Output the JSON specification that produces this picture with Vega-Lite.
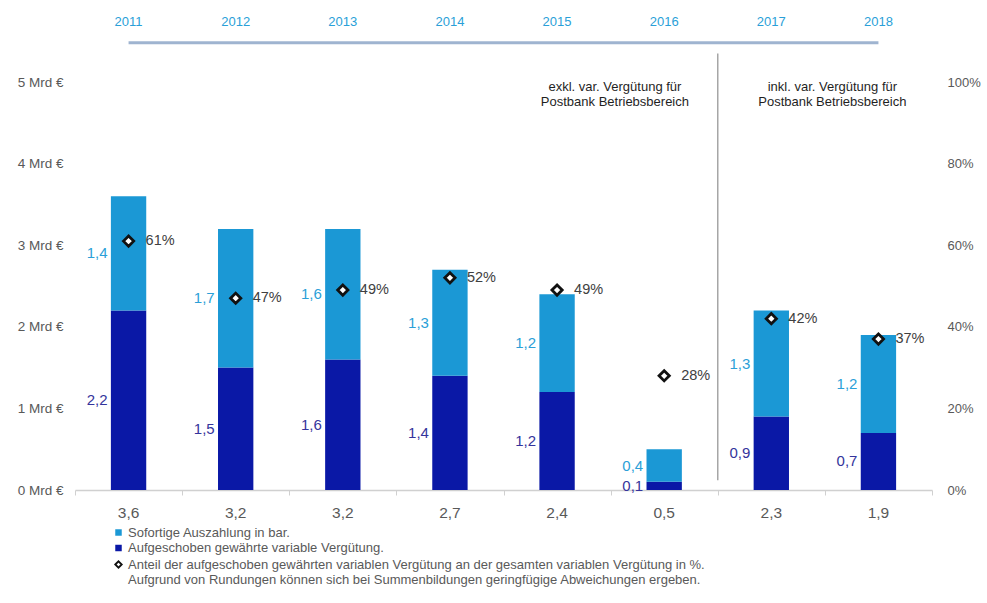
{
  "$schema": "https://vega.github.io/schema/vega-lite/v6.json",
  "width": 857,
  "height": 408,
  "autosize": {"type": "none"},
  "padding": {"left": 75, "top": 82, "right": 55, "bottom": 113},
  "background": "white",
  "config": {
    "view": {"stroke": null},
    "font": "Liberation Sans",
    "locale": {"number": {"decimal": ",", "thousands": ".", "grouping": [3], "currency": ["", " €"]}}
  },
  "datasets": {
    "parts": [
      {"Jahr": "2011", "Art": "Aufgeschoben gewährte variable Vergütung.", "Wert": 2.2},
      {"Jahr": "2011", "Art": "Sofortige Auszahlung in bar.", "Wert": 1.4},
      {"Jahr": "2012", "Art": "Aufgeschoben gewährte variable Vergütung.", "Wert": 1.5},
      {"Jahr": "2012", "Art": "Sofortige Auszahlung in bar.", "Wert": 1.7},
      {"Jahr": "2013", "Art": "Aufgeschoben gewährte variable Vergütung.", "Wert": 1.6},
      {"Jahr": "2013", "Art": "Sofortige Auszahlung in bar.", "Wert": 1.6},
      {"Jahr": "2014", "Art": "Aufgeschoben gewährte variable Vergütung.", "Wert": 1.4},
      {"Jahr": "2014", "Art": "Sofortige Auszahlung in bar.", "Wert": 1.3},
      {"Jahr": "2015", "Art": "Aufgeschoben gewährte variable Vergütung.", "Wert": 1.2},
      {"Jahr": "2015", "Art": "Sofortige Auszahlung in bar.", "Wert": 1.2},
      {"Jahr": "2016", "Art": "Aufgeschoben gewährte variable Vergütung.", "Wert": 0.1},
      {"Jahr": "2016", "Art": "Sofortige Auszahlung in bar.", "Wert": 0.4},
      {"Jahr": "2017", "Art": "Aufgeschoben gewährte variable Vergütung.", "Wert": 0.9},
      {"Jahr": "2017", "Art": "Sofortige Auszahlung in bar.", "Wert": 1.3},
      {"Jahr": "2018", "Art": "Aufgeschoben gewährte variable Vergütung.", "Wert": 0.7},
      {"Jahr": "2018", "Art": "Sofortige Auszahlung in bar.", "Wert": 1.2}
    ],
    "summary": [
      {"Jahr": "2011", "Summe": 3.6, "Anteil": 0.61},
      {"Jahr": "2012", "Summe": 3.2, "Anteil": 0.47},
      {"Jahr": "2013", "Summe": 3.2, "Anteil": 0.49},
      {"Jahr": "2014", "Summe": 2.7, "Anteil": 0.52},
      {"Jahr": "2015", "Summe": 2.4, "Anteil": 0.49},
      {"Jahr": "2016", "Summe": 0.5, "Anteil": 0.28},
      {"Jahr": "2017", "Summe": 2.3, "Anteil": 0.42},
      {"Jahr": "2018", "Summe": 1.9, "Anteil": 0.37}
    ]
  },
  "layer": [
    {
      "layer": [
        {
          "data": {"name": "parts"},
          "mark": {"type": "bar", "width": {"band": 0.33}},
          "encoding": {
            "x": {
              "field": "Jahr", "type": "nominal",
              "scale": {"paddingInner": 0, "paddingOuter": 0},
              "axis": {"orient": "top", "title": null, "domain": false, "ticks": false, "labelPadding": 54, "labelColor": "#2a9fd8", "labelFontSize": 13, "labelAngle": 0}
            },
            "y": {
              "field": "Wert", "type": "quantitative", "stack": "zero",
              "scale": {"domain": [0, 5]},
              "axis": {"orient": "left", "title": null, "values": [0, 1, 2, 3, 4, 5], "labelExpr": "datum.value + ' Mrd €'", "domain": false, "ticks": false, "grid": false, "labelPadding": 12, "labelFontSize": 13.5, "labelColor": "#595959"}
            },
            "color": {
              "field": "Art", "type": "nominal",
              "scale": {
                "domain": ["Sofortige Auszahlung in bar.", "Aufgeschoben gewährte variable Vergütung.", "Anteil der aufgeschoben gewährten variablen Vergütung an der gesamten variablen Vergütung in %.", "Aufgrund von Rundungen können sich bei Summenbildungen geringfügige Abweichungen ergeben."],
                "range": ["#1b98d5", "#0a18a6", "white", "transparent"]
              },
              "legend": {
                "orient": "none", "legendX": 37, "legendY": 444, "title": null,
                "symbolType": "square", "symbolSize": 42, "labelFontSize": 13, "labelColor": "#595959",
                "labelLimit": 900, "rowPadding": 1.5, "labelOffset": 3, "symbolStrokeWidth": 0,
                "encode": {
                  "symbols": {
                    "update": {
                      "shape": {"signal": "datum.index === 2 ? 'diamond' : 'square'"},
                      "stroke": {"signal": "datum.index === 2 ? '#111111' : 'transparent'"},
                      "strokeWidth": {"signal": "datum.index === 2 ? 1.8 : 0"}
                    }
                  }
                }
              }
            },
            "order": {"field": "Art", "sort": "ascending"}
          }
        },
        {
          "data": {"name": "parts"},
          "transform": [
            {"stack": "Wert", "groupby": ["Jahr"], "sort": [{"field": "Art", "order": "ascending"}], "as": ["y0", "y1"]},
            {"fold": ["y0", "y1"], "as": ["Kante", "Pos"]},
            {"aggregate": [{"op": "mean", "field": "Pos", "as": "Mitte"}, {"op": "max", "field": "Wert", "as": "Wert"}], "groupby": ["Jahr", "Art"]}
          ],
          "mark": {"type": "text", "align": "right", "baseline": "middle", "dx": -21, "fontSize": 15},
          "encoding": {
            "x": {"field": "Jahr", "type": "nominal", "axis": null},
            "y": {"field": "Mitte", "type": "quantitative", "axis": {"orient": "left", "title": null, "values": [0, 1, 2, 3, 4, 5], "labelExpr": "datum.value + ' Mrd €'", "domain": false, "ticks": false, "grid": false, "labelPadding": 12, "labelFontSize": 13.5, "labelColor": "#595959"}},
            "text": {"field": "Wert", "type": "quantitative", "format": ".1f"},
            "color": {"condition": {"test": "datum.Art === 'Sofortige Auszahlung in bar.'", "value": "#2b9fd8"}, "value": "#34349c"}
          }
        },
        {
          "data": {"name": "summary"},
          "mark": {"type": "text", "baseline": "middle", "dy": 23, "fontSize": 15.5, "color": "#595959"},
          "encoding": {
            "x": {"field": "Jahr", "type": "nominal", "axis": {"orient": "bottom", "title": null, "labels": false, "domainColor": "#d0d0d0", "domainWidth": 1.5, "tickBand": "extent", "tickColor": "#d0d0d0", "tickSize": 5, "grid": false}},
            "y": {"datum": 0, "axis": {"orient": "left", "title": null, "values": [0, 1, 2, 3, 4, 5], "labelExpr": "datum.value + ' Mrd €'", "domain": false, "ticks": false, "grid": false, "labelPadding": 12, "labelFontSize": 13.5, "labelColor": "#595959"}},
            "text": {"field": "Summe", "type": "quantitative", "format": ".1f"}
          }
        },
        {
          "data": {"values": [{}]},
          "mark": {"type": "rule", "color": "#a6a6a6", "strokeWidth": 1.5},
          "encoding": {
            "x": {"datum": "2017", "type": "nominal", "bandPosition": 0, "axis": null},
            "y": {"datum": 0.12, "axis": {"orient": "left", "title": null, "values": [0, 1, 2, 3, 4, 5], "labelExpr": "datum.value + ' Mrd €'", "domain": false, "ticks": false, "grid": false, "labelPadding": 12, "labelFontSize": 13.5, "labelColor": "#595959"}},
            "y2": {"datum": 5.35}
          }
        },
        {
          "data": {"values": [{}]},
          "mark": {"type": "rule", "color": "#9fb4d0", "strokeWidth": 3},
          "encoding": {
            "x": {"datum": "2011", "type": "nominal", "axis": null},
            "x2": {"datum": "2018", "bandPosition": 0.5},
            "y": {"datum": 5.48, "axis": {"orient": "left", "title": null, "values": [0, 1, 2, 3, 4, 5], "labelExpr": "datum.value + ' Mrd €'", "domain": false, "ticks": false, "grid": false, "labelPadding": 12, "labelFontSize": 13.5, "labelColor": "#595959"}}
          }
        },
        {
          "data": {"values": [{}]},
          "mark": {"type": "text", "text": ["exkl. var. Vergütung für", "Postbank Betriebsbereich"], "fontSize": 13, "color": "#1f1f1f", "baseline": "top", "lineHeight": 14.5},
          "encoding": {
            "x": {"datum": "2016", "type": "nominal", "bandPosition": 0.04, "axis": null},
            "y": {"datum": 5.01, "axis": {"orient": "left", "title": null, "values": [0, 1, 2, 3, 4, 5], "labelExpr": "datum.value + ' Mrd €'", "domain": false, "ticks": false, "grid": false, "labelPadding": 12, "labelFontSize": 13.5, "labelColor": "#595959"}}
          }
        },
        {
          "data": {"values": [{}]},
          "mark": {"type": "text", "text": ["inkl. var. Vergütung für", "Postbank Betriebsbereich"], "fontSize": 13, "color": "#1f1f1f", "baseline": "top", "lineHeight": 14.5},
          "encoding": {
            "x": {"datum": "2018", "type": "nominal", "bandPosition": 0.07, "axis": null},
            "y": {"datum": 5.01, "axis": {"orient": "left", "title": null, "values": [0, 1, 2, 3, 4, 5], "labelExpr": "datum.value + ' Mrd €'", "domain": false, "ticks": false, "grid": false, "labelPadding": 12, "labelFontSize": 13.5, "labelColor": "#595959"}}
          }
        }
      ]
    },
    {
      "data": {"name": "summary"},
      "layer": [
        {
          "mark": {"type": "point", "shape": "diamond", "filled": true, "fill": "white", "stroke": "#111111", "strokeWidth": 2.8, "size": 105, "opacity": 1},
          "encoding": {
            "x": {"field": "Jahr", "type": "nominal", "axis": null},
            "y": {
              "field": "Anteil", "type": "quantitative",
              "scale": {"domain": [0, 1]},
              "axis": {"orient": "right", "title": null, "values": [0, 0.2, 0.4, 0.6, 0.8, 1], "format": ".0%", "domain": false, "ticks": false, "grid": false, "labelPadding": 15, "labelFontSize": 13, "labelColor": "#595959"}
            }
          }
        },
        {
          "mark": {"type": "text", "align": "left", "baseline": "middle", "dx": 17, "fontSize": 14.5, "color": "#404040"},
          "encoding": {
            "x": {"field": "Jahr", "type": "nominal", "axis": null},
            "y": {"field": "Anteil", "type": "quantitative", "axis": {"orient": "right", "title": null, "values": [0, 0.2, 0.4, 0.6, 0.8, 1], "format": ".0%", "domain": false, "ticks": false, "grid": false, "labelPadding": 15, "labelFontSize": 13, "labelColor": "#595959"}},
            "text": {"field": "Anteil", "type": "quantitative", "format": ".0%"}
          }
        }
      ]
    }
  ],
  "resolve": {"scale": {"y": "independent"}}
}
